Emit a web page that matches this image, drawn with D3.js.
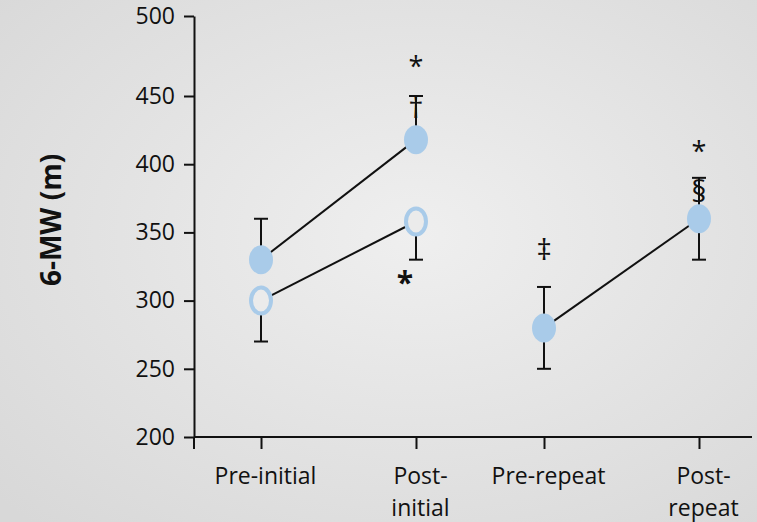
<!DOCTYPE html>
<html lang="en">
<head>
  <meta charset="UTF-8" />
  <title>6-MW chart</title>
  <script src="https://d3js.org/d3.v7.min.js"></script>
  <style>
    html, body { margin: 0; padding: 0; background: #e6e6e6; }
    svg text { font-family: "Open Sans", sans-serif; fill: #111; }
    .axis path, .axis line { stroke: #111; stroke-width: 2; }
    .axis text { font-size: 23px; }
  </style>
</head>
<body>
  <div id="chart"></div>

  <script>
    // Categories and tick labels
    const categories = ["Pre-initial", "Post-initial", "Pre-repeat", "Post-repeat"];
    const categoryLines = [["Pre-initial"], ["Post-", "initial"], ["Pre-repeat"], ["Post-", "repeat"]];
    const programmes = ["initial", "repeat"];
    const phases = ["Pre", "Post"];
    const yTicks = [200, 250, 300, 350, 400, 450, 500];

    // Initial programme: filled series (error bar shown upward)
    const initialCats = ["Pre-initial", "Post-initial"];
    const filledMean = [330, 418];
    const filledSD = [30, 32];
    // Initial programme: open series (error bar shown downward)
    const openMean = [300, 358];
    const openSD = [30, 28];
    // Repeat programme (error bars both ways)
    const repeatCats = ["Pre-repeat", "Post-repeat"];
    const repeatMean = [280, 360];
    const repeatSD = [30, 30];

    // Significance symbols (value = height in m on the y scale)
    const noteCats = ["Post-initial", "Post-initial", "Post-initial", "Pre-repeat", "Post-repeat", "Post-repeat"];
    const noteText = ["*", "\u2020", "*", "\u2021", "*", "\u00a7"];
    const noteValue = [469, 442, 314, 338, 410, 381];

    const width = 757, height = 522;
    const x0 = 194, xEnd = 752;

    const svg = d3.select("#chart").append("svg")
      .attr("width", width)
      .attr("height", height);

    // soft grey background
    const grad = svg.append("defs").append("radialGradient")
      .attr("id", "bg").attr("cx", "55%").attr("cy", "45%").attr("r", "75%");
    grad.append("stop").attr("offset", "0%").attr("stop-color", "#efefef");
    grad.append("stop").attr("offset", "100%").attr("stop-color", "#d8d8d8");
    svg.append("rect").attr("width", width).attr("height", height).attr("fill", "url(#bg)");

    // Scales: programme bands, pre/post points inside each band
    const progScale = d3.scaleBand()
      .domain(programmes)
      .range([197, 763]);
    const phaseScale = d3.scalePoint()
      .domain(phases)
      .range([0, progScale.bandwidth()])
      .padding(0.413);

    const xScale = d3.scaleOrdinal()
      .domain(categories)
      .range(categories.map(c => {
        const [ph, pr] = c.split("-");
        return progScale(pr) + phaseScale(ph);
      }));

    const yScale = d3.scaleLinear()
      .domain([200, 450, 500])
      .range([437, 96, 16]);

    // Y axis
    const yAxis = svg.append("g")
      .attr("class", "axis")
      .attr("transform", `translate(${x0},0)`)
      .call(d3.axisLeft(yScale).tickValues(yTicks).tickSize(10).tickSizeOuter(0).tickPadding(9));
    yAxis.append("line")
      .attr("x1", 0).attr("x2", 0)
      .attr("y1", yScale(200)).attr("y2", yScale(200) + 12);

    // X axis
    const xAxis = svg.append("g")
      .attr("class", "axis")
      .attr("transform", `translate(0,${yScale(200)})`)
      .call(d3.axisBottom(xScale).tickSize(12).tickFormat(""));
    xAxis.select(".domain").remove();
    xAxis.append("line")
      .attr("x1", x0).attr("x2", xEnd)
      .attr("y1", 0).attr("y2", 0);

    xAxis.selectAll(".tick").each(function(d) {
      const lines = categoryLines[categories.indexOf(d)];
      const t = d3.select(this).append("text")
        .attr("text-anchor", "middle")
        .attr("y", 47)
        .style("fill", "#111");
      lines.forEach((s, i) => {
        t.append("tspan").attr("x", 4).attr("dy", i === 0 ? 0 : 32).text(s);
      });
    });

    // Y title
    svg.append("text")
      .attr("transform", `translate(61,220) rotate(-90)`)
      .attr("text-anchor", "middle")
      .style("font-size", "28px")
      .style("font-weight", "bold")
      .text("6-MW (m)");

    const markerColor = "#a9cbe9";
    const lineColor = "#111";

    function connect(cats, means) {
      svg.append("line")
        .attr("x1", xScale(cats[0])).attr("y1", yScale(means[0]))
        .attr("x2", xScale(cats[1])).attr("y2", yScale(means[1]))
        .attr("stroke", lineColor).attr("stroke-width", 2);
    }

    function errorBar(cat, mean, sd, dirs) {
      const g = svg.append("g").attr("stroke", lineColor).attr("stroke-width", 2);
      const cx = xScale(cat);
      dirs.forEach(s => {
        const end = yScale(mean + s * sd);
        g.append("line").attr("x1", cx).attr("x2", cx)
          .attr("y1", yScale(mean)).attr("y2", end);
        g.append("line").attr("x1", cx - 7).attr("x2", cx + 7)
          .attr("y1", end).attr("y2", end);
      });
    }

    function marker(cat, mean, open) {
      svg.append("ellipse")
        .attr("cx", xScale(cat)).attr("cy", yScale(mean))
        .attr("rx", open ? 10 : 12).attr("ry", open ? 13 : 14.5)
        .attr("fill", open ? "#ebebeb" : markerColor)
        .attr("stroke", open ? markerColor : "none")
        .attr("stroke-width", open ? 4 : 0);
    }

    // lines
    connect(initialCats, filledMean);
    connect(initialCats, openMean);
    connect(repeatCats, repeatMean);

    // error bars
    initialCats.forEach((c, i) => errorBar(c, filledMean[i], filledSD[i], [1]));
    initialCats.forEach((c, i) => errorBar(c, openMean[i], openSD[i], [-1]));
    repeatCats.forEach((c, i) => errorBar(c, repeatMean[i], repeatSD[i], [1, -1]));

    // markers
    initialCats.forEach((c, i) => marker(c, filledMean[i], false));
    initialCats.forEach((c, i) => marker(c, openMean[i], true));
    repeatCats.forEach((c, i) => marker(c, repeatMean[i], false));

    // significance symbols
    noteText.forEach((t, i) => {
      const below = noteValue[i] < 350 && noteCats[i] === "Post-initial";
      const star = t === "*";
      svg.append("text")
        .attr("x", xScale(noteCats[i]) + (below ? -11 : 0))
        .attr("y", yScale(noteValue[i]))
        .attr("text-anchor", "middle")
        .attr("dominant-baseline", "central")
        .style("font-size", below ? "30px" : (star ? "27px" : "30px"))
        .style("font-weight", below ? "bold" : "normal")
        .text(t);
    });
  </script>
</body>
</html>
